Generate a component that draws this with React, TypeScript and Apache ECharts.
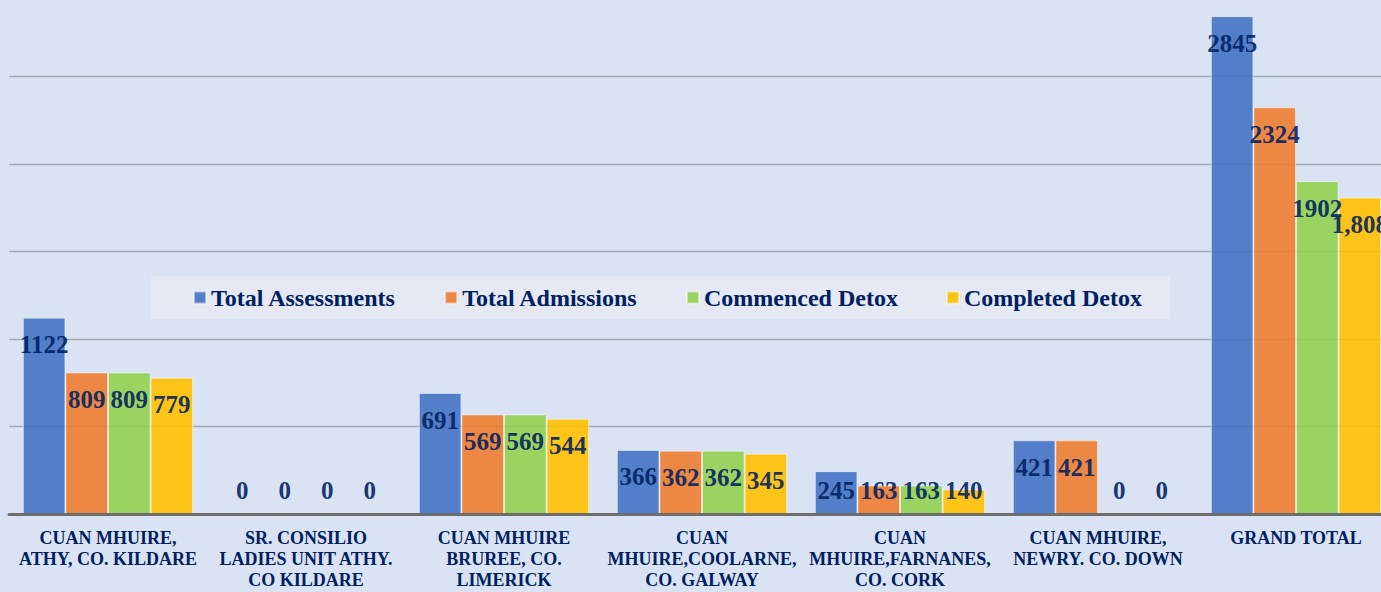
import React, { useEffect, useRef } from "react";
import * as echarts from "echarts";

const categories = [
  "CUAN MHUIRE,\nATHY, CO. KILDARE",
  "SR. CONSILIO\nLADIES UNIT ATHY.\nCO KILDARE",
  "CUAN MHUIRE\nBRUREE, CO.\nLIMERICK",
  "CUAN\nMHUIRE,COOLARNE,\nCO. GALWAY",
  "CUAN\nMHUIRE,FARNANES,\nCO. CORK",
  "CUAN MHUIRE,\nNEWRY. CO. DOWN",
  "GRAND TOTAL",
];

const seriesNames = ["Total Assessments", "Total Admissions", "Commenced Detox", "Completed Detox"];
const totalAssessments = [1122, 0, 691, 366, 245, 421, 2845];
const totalAdmissions = [809, 0, 569, 362, 163, 421, 2324];
const commencedDetox = [809, 0, 569, 362, 163, 0, 1902];
const completedDetox = [779, 0, 544, 345, 140, 0, 1808];

const colors = ["#4472c4", "#ed7d31", "#92d050", "#ffc000"];
const NAVY = "#002060";
const FONT = "'Liberation Serif', 'Times New Roman', serif";

export default function App() {
  const ref = useRef<HTMLDivElement>(null);

  useEffect(() => {
    if (!ref.current) return;
    const chart = echarts.init(ref.current, null, { renderer: "svg" });
    const all = [totalAssessments, totalAdmissions, commencedDetox, completedDetox];

    const series = all.map((vals, si) => ({
      name: seriesNames[si],
      type: "bar",
      barGap: "0%",
      barCategoryGap: "14%",
      itemStyle: {
        color: colors[si],
        opacity: 0.9,
        borderColor: "rgba(255,255,255,0.55)",
        borderWidth: 1,
      },
      label: {
        show: true,
        position: "insideTop",
        distance: 15,
        color: NAVY,
        fontFamily: FONT,
        fontWeight: "bold",
        fontSize: 25,
        lineHeight: 24,
        formatter: (p: any) =>
          p.value >= 1000 && si === 3 ? Number(p.value).toLocaleString("en-US") : String(p.value),
      },
      data: vals.map((v) =>
        v < 300
          ? { value: v, label: { position: "insideBottom", distance: 12 } }
          : { value: v }
      ),
    }));

    chart.setOption({
      animation: false,
      backgroundColor: "#dae3f3",
      grid: { left: 9, right: 0, top: 0, bottom: 78, containLabel: false },
      legend: {
        data: seriesNames,
        left: 151,
        top: 287,
        padding: [9, 28, 9, 42],
        backgroundColor: "#e4e9f4",
        itemGap: 48,
        itemWidth: 12,
        itemHeight: 12,
        icon: "rect",
        textStyle: { color: NAVY, fontFamily: FONT, fontWeight: "bold", fontSize: 24, lineHeight: 25 },
      },
      xAxis: {
        type: "category",
        data: categories,
        z: 3,
        axisLine: { lineStyle: { color: "#6e6e6e", width: 3 } },
        axisTick: { show: false },
        axisLabel: {
          interval: 0,
          margin: 13,
          color: NAVY,
          fontFamily: FONT,
          fontWeight: "bold",
          fontSize: 18,
          lineHeight: 21,
        },
      },
      yAxis: {
        type: "value",
        min: 0,
        max: 3000,
        interval: 500,
        axisLabel: { show: false },
        axisLine: { show: false },
        axisTick: { show: false },
        splitLine: { lineStyle: { color: "#a3abb8", width: 1.3 } },
      },
      series,
    });
    return () => chart.dispose();
  }, []);

  return (
    <div
      style={{
        position: "absolute",
        left: 0,
        top: 0,
        width: 1381,
        height: 592,
        overflow: "hidden",
        background: "#dae3f3",
      }}
    >
      <div
        ref={ref}
        style={{ position: "absolute", left: 0, top: -11, width: 1395, height: 603 }}
      />
    </div>
  );
}
